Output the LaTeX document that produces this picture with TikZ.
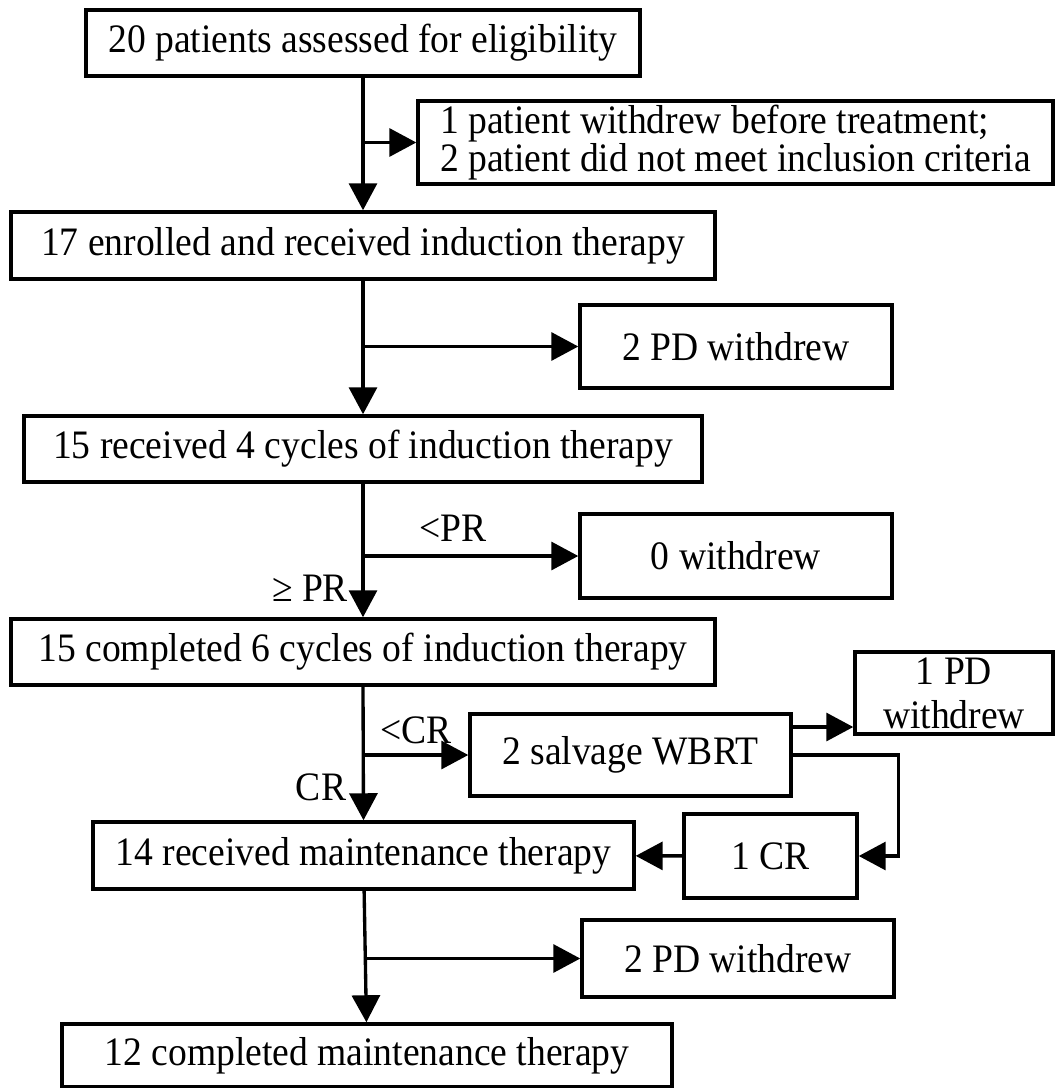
\documentclass[tikz,border=0pt]{standalone}
\usepackage{fontspec}
\setmainfont{Liberation Serif}[FakeStretch=0.93]
\usetikzlibrary{arrows.meta}

\begin{document}
\begin{tikzpicture}[x=0.02cm, y=-0.02cm,
  every node/.style = {align=center, font=\fontsize{23}{25}\selectfont},
  box/.style = {draw, line width=2pt, inner sep=0pt},
  arr/.style = {line width=1.9pt, -{Triangle[length=0.54cm, width=0.56cm]}}]

\useasboundingbox (0,0) rectangle (1055,1088);

\node[box, minimum width=11.08cm, minimum height=1.32cm] (assessed) at (363,43) {20 patients assessed for eligibility};
\node[box, minimum width=12.7cm, minimum height=1.66cm, align=left,
  font=\fontsize{23}{17.6}\selectfont] (excluded) at (735.5,142.5)
  {1 patient withdrew before treatment;\\2 patient did not meet inclusion criteria};
\node[box, minimum width=14.08cm, minimum height=1.34cm] (enrolled) at (363,245.5) {17 enrolled and received induction therapy};
\node[box, minimum width=6.24cm, minimum height=1.66cm] (pdfirst) at (736,346.5) {2 PD withdrew};
\node[box, minimum width=13.56cm, minimum height=1.32cm] (fourcyc) at (363,449) {15 received 4 cycles of induction therapy};
\node[box, minimum width=6.24cm, minimum height=1.68cm] (nonewd) at (736,556) {0 withdrew};
\node[box, minimum width=14.08cm, minimum height=1.32cm] (sixcyc) at (363,652) {15 completed 6 cycles of induction therapy};
\node[box, minimum width=3.96cm, minimum height=1.64cm] (pdwbrt) at (954,693) {1 PD\\withdrew};
\node[box, minimum width=6.42cm, minimum height=1.64cm] (wbrt) at (630.5,755) {2 salvage WBRT};
\node[box, minimum width=3.46cm, minimum height=1.68cm] (crwbrt) at (770.5,856) {1 CR};
\node[box, minimum width=10.82cm, minimum height=1.34cm] (maint) at (363.5,855.5) {14 received maintenance therapy};
\node[box, minimum width=6.24cm, minimum height=1.54cm] (pdmaint) at (738,958.5) {2 PD withdrew};
\node[box, minimum width=12.2cm, minimum height=1.26cm] (done) at (367,1055.5) {12 completed maintenance therapy};

\node (ltpr) at (453,528) {<PR};
\node (gepr) at (310,588) {≥ PR};
\node (ltcr) at (416,730) {<CR};
\node (cr) at (321,787) {CR};

\draw[arr] (assessed) -- (enrolled);
\draw[arr] (assessed.south |- excluded.west) -- (excluded.west);
\draw[arr] (enrolled) -- (fourcyc);
\draw[arr] (enrolled.south |- pdfirst.west) -- (pdfirst.west);
\draw[arr] (fourcyc) -- (sixcyc);
\draw[arr] (fourcyc.south |- nonewd.west) -- (nonewd.west);
\draw[arr] (sixcyc.south) -- (maint.north);
\draw[arr] (sixcyc.south |- wbrt.west) -- (wbrt.west);
\coordinate (wbrtup) at ([yshift=0.56cm]wbrt.east);
\draw[arr] (wbrtup) -- (wbrtup -| pdwbrt.west);
\draw[arr] (wbrt.east) -- ++(106,0) |- (crwbrt.east);
\draw[arr] (crwbrt) -- (maint);
\draw[arr] (maint) -- (done);
\draw[arr] (maint.south |- pdmaint.west) -- (pdmaint.west);
\end{tikzpicture}
\end{document}
